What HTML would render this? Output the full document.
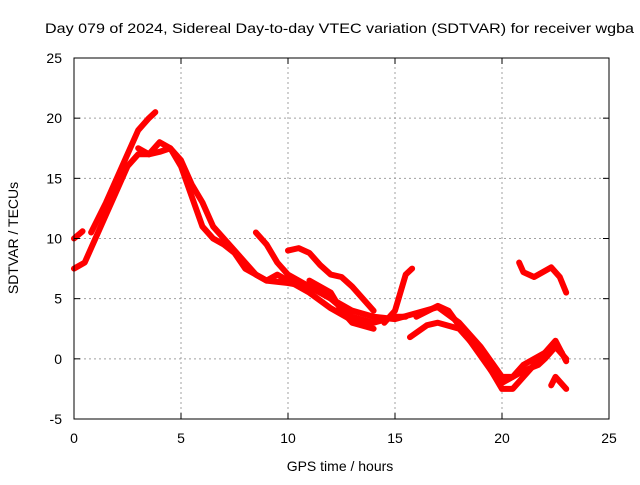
<!DOCTYPE html>
<html><head><meta charset="utf-8"><style>
body{margin:0;background:#fff;}
svg text{font-family:"Liberation Sans",sans-serif;font-size:14px;fill:#000;}
</style></head><body>
<svg id="c" width="640" height="480" xmlns="http://www.w3.org/2000/svg">
<text x="45" y="33" textLength="589" lengthAdjust="spacingAndGlyphs">Day 079 of 2024, Sidereal Day-to-day VTEC variation (SDTVAR) for receiver wgba</text>
<g id="grid"></g><g id="series"></g><g id="axes"></g>
<text x="340" y="471" text-anchor="middle">GPS time / hours</text>
<text transform="translate(18,238) rotate(-90)" text-anchor="middle">SDTVAR / TECUs</text>
</svg>
<script>
const xTicks=[0,5,10,15,20,25];
const yTicks=[-5,0,5,10,15,20,25];
const t1=[[0,7.5],[0.5,8],[1,10],[1.5,12],[2,14],[2.5,16],[3,17],[3.5,17],[4,17.2],[4.5,17.5],[5,16.5],[5.5,14.5],[6,13],[6.5,11],[7,10],[7.5,9],[8,8],[8.5,7],[9,6.5],[10,6.3],[11,6],[12,5],[13,4],[14,3.5],[15,3.3],[16,3.8],[17,4.3],[18,3],[19,1],[20,-1.5],[20.5,-1.5],[21,-0.5],[22,0.5],[22.5,1],[23,0]];
const t2=[[0.8,10.5],[1.5,13],[2,15],[2.5,17],[3,19],[3.5,20],[3.8,20.5]];
const t3=[[0,10],[0.4,10.6]];
const t4=[[3,17.5],[3.5,17],[4,18],[4.5,17.5],[5,16],[5.5,13.5],[6,11],[6.5,10],[7,9.5],[7.5,8.8],[8,7.5],[9,6.5],[9.5,7],[10,6.5],[11,5.5],[12,4.2],[13,3.2],[14,3]];
const t5=[[8.5,10.5],[9,9.5],[9.5,8],[10,7],[11,6],[12,5],[13,3.5],[14,3],[15,3.5],[15.5,3.5]];
const t6=[[10,9],[10.5,9.2],[11,8.8],[11.5,7.8],[12,7],[12.5,6.8],[13,6],[14,4]];
const t7=[[11,6.5],[12,5.5],[12.5,4],[13,3],[14,2.5]];
const t8=[[14.5,3],[15,4],[15.5,7],[15.8,7.5]];
const t9=[[15.7,1.8],[16.5,2.8],[17,3],[18,2.5],[19,0.5],[20,-2.5],[20.5,-2.5],[21,-1.5],[21.5,-0.5],[22,0.5],[22.5,1.5],[23,-0.2]];
const t10=[[16,3.5],[17,4.4],[17.5,4],[18.5,1.5],[19.5,-1],[20,-2],[21,-1],[21.7,-0.5],[22,0],[22.5,1],[22.8,0.5]];
const t11=[[20.8,8],[21,7.2],[21.5,6.8],[22,7.3],[22.3,7.6],[22.7,6.8],[23,5.5]];
const t12=[[22.3,-2.2],[22.5,-1.5],[23,-2.5]];
const seriesList=[t1,t2,t3,t4,t5,t6,t7,t8,t9,t10,t11,t12];
const X0=74,X1=609,Y0=419,Y1=58;
const sx=v=>X0+(v-0)/(25-0)*(X1-X0);
const sy=v=>Y0-(v+5)/30*(Y0-Y1);
const NS="http://www.w3.org/2000/svg";
const g=document.getElementById('grid'),a=document.getElementById('axes'),s=document.getElementById('series');
function mk(t,at,p){const e=document.createElementNS(NS,t);for(const k in at)e.setAttribute(k,at[k]);p.appendChild(e);return e;}
xTicks.forEach(v=>{
 const x=sx(v);
 if(v>0&&v<25){const l=mk('line',{x1:x,x2:x,y1:Y0,y2:Y1,stroke:'#a0a0a0','stroke-dasharray':'2,3'},g);
 
 }
 mk('line',{x1:x,x2:x,y1:Y0,y2:Y0-6,stroke:'#000'},a);
 mk('line',{x1:x,x2:x,y1:Y1,y2:Y1+6,stroke:'#000'},a);
 const t=mk('text',{x:x,y:Y0+24,'text-anchor':'middle'},a);t.textContent=v;
 
 
});
yTicks.forEach(v=>{
 const y=sy(v);
 if(v>-5&&v<25){const l=mk('line',{x1:X0,x2:X1,y1:y,y2:y,stroke:'#a0a0a0','stroke-dasharray':'2,3'},g);
 
 }
 mk('line',{x1:X0,x2:X0+6,y1:y,y2:y,stroke:'#000'},a);
 mk('line',{x1:X1,x2:X1-6,y1:y,y2:y,stroke:'#000'},a);
 const t=mk('text',{x:X0-12,y:y+5,'text-anchor':'end'},a);t.textContent=v;
 
 
});
const box=mk('rect',{x:X0,y:Y1,width:X1-X0,height:Y0-Y1,fill:'none',stroke:'#000'},a);


seriesList.forEach(tr=>{
 const p=mk('polyline',{points:tr.map(d=>sx(d[0])+','+sy(d[1])).join(' '),fill:'none',stroke:'#ff0000','stroke-width':6,'stroke-linejoin':'round','stroke-linecap':'round'},s);
 
 
});
</script>
</body></html>
